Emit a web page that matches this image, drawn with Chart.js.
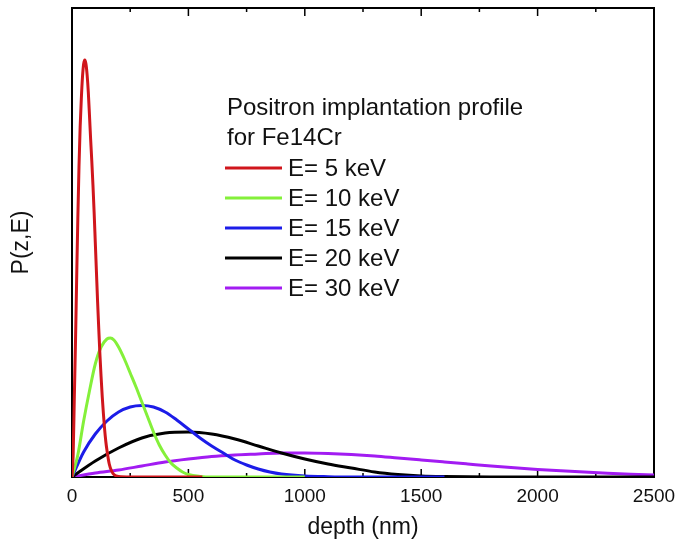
<!DOCTYPE html>
<html>
<head>
<meta charset="utf-8">
<script src="https://cdn.jsdelivr.net/npm/chart.js@4.4.1/dist/chart.umd.min.js"></script>
<style>
  html, body { margin: 0; padding: 0; background: #fff; }
</style>
</head>
<body>
<canvas id="profileChart" width="691" height="547"></canvas>
<script>
// depth in nm, P(z,E) in arbitrary units
const legendTitle = ["Positron implantation profile", "for Fe14Cr"];
const seriesLabels = ["E= 5 keV", "E= 10 keV", "E= 15 keV", "E= 20 keV", "E= 30 keV"];
const seriesColors = ["#d0161c", "#84f03a", "#1c1ce8", "#000000", "#a21cf2"];
const xTicks = [0, 500, 1000, 1500, 2000, 2500];

const depth5 = [0, 5, 10, 15, 20, 25, 30, 35, 40, 45, 50, 55, 60, 65, 70, 75, 80, 85, 90, 95, 100, 105, 110, 115, 120, 125, 130, 135, 140, 145, 150, 160, 170, 180, 200, 250, 560];
const p5 = [0, 22, 80, 135, 198, 258, 310, 350, 378, 400, 413, 417, 413, 402, 385, 362, 338, 316, 292, 265, 235, 205, 175, 148, 122, 100, 80, 63, 48, 36, 27, 13, 6, 2.5, 0.5, 0, 0];

const depth10 = [0, 25, 50, 75, 100, 125, 150, 165, 180, 200, 225, 250, 275, 300, 325, 350, 375, 400, 425, 450, 475, 500, 550, 600, 1000];
const p10 = [0, 22, 56, 86, 113, 130, 138, 139, 137, 130, 118, 104, 90, 75, 60, 45, 32, 22, 14, 9, 5, 2.5, 0.6, 0, 0];

const depth15 = [0, 50, 100, 150, 200, 250, 300, 350, 400, 450, 500, 550, 600, 650, 700, 750, 800, 850, 900, 1000, 1100, 1200, 1600];
const p15 = [0, 25, 43, 56, 65, 70, 71.5, 70, 65, 57, 48, 39, 31, 24, 17, 12, 8, 5, 3, 1, 0.3, 0, 0];

const depth20 = [0, 100, 200, 300, 400, 500, 600, 700, 800, 900, 1000, 1100, 1200, 1300, 1400, 1500, 1600, 1800, 2500];
const p20 = [0, 16, 29, 39, 44, 45, 43, 38, 31, 24, 18, 13, 9, 5, 2.5, 1, 0.4, 0, 0];

const depth30 = [0, 100, 200, 300, 400, 500, 600, 700, 800, 900, 1000, 1100, 1200, 1300, 1400, 1500, 1600, 1700, 1800, 1900, 2000, 2100, 2200, 2300, 2400, 2500];
const p30 = [0, 4, 7, 11, 15, 18, 20.5, 22, 23, 24, 24, 23.5, 22.5, 21, 19, 17, 15, 13, 11, 9.2, 7.6, 6.2, 4.9, 3.8, 2.8, 2];

const depths = [depth5, depth10, depth15, depth20, depth30];
const values = [p5, p10, p15, p20, p30];

const fontFamily = "'Liberation Sans', Arial, sans-serif";

// box around the plot with inward ticks on top and bottom
const framePlugin = {
  id: "frame",
  beforeDatasetsDraw(chart) {
    const { ctx, chartArea: a, scales: { x } } = chart;
    ctx.save();
    ctx.strokeStyle = "#000";
    ctx.lineWidth = 2;
    ctx.strokeRect(a.left, a.top, a.right - a.left, a.bottom - a.top);
    ctx.lineWidth = 1.5;
    for (let i = 0; i < xTicks.length; i++) {
      const marks = [[xTicks[i], 8]];
      if (i < xTicks.length - 1) marks.push([(xTicks[i] + xTicks[i + 1]) / 2, 4]);
      marks.forEach(([v, len]) => {
        const px = x.getPixelForValue(v);
        ctx.beginPath();
        ctx.moveTo(px, a.bottom);
        ctx.lineTo(px, a.bottom - len);
        ctx.moveTo(px, a.top);
        ctx.lineTo(px, a.top + len);
        ctx.stroke();
      });
    }
    ctx.restore();
  }
};

// legend inside the plot, with a two line heading
const legendPlugin = {
  id: "insideLegend",
  afterDraw(chart) {
    const ctx = chart.ctx;
    ctx.save();
    ctx.font = "24px " + fontFamily;
    ctx.fillStyle = "#111";
    ctx.textBaseline = "middle";
    ctx.textAlign = "left";
    legendTitle.forEach((t, i) => ctx.fillText(t, 227, 108 + i * 30));
    chart.data.datasets.forEach((ds, i) => {
      const y = 168 + i * 30;
      ctx.strokeStyle = ds.borderColor;
      ctx.lineWidth = 3;
      ctx.beginPath();
      ctx.moveTo(225, y);
      ctx.lineTo(282, y);
      ctx.stroke();
      ctx.fillText(ds.label, 288, y + 1);
    });
    ctx.restore();
  }
};

const ctx = document.getElementById("profileChart").getContext("2d");
new Chart(ctx, {
  type: "line",
  data: {
    datasets: seriesLabels.map((label, i) => ({
      label: label,
      data: depths[i].map((d, j) => ({ x: d, y: values[i][j] })),
      borderColor: seriesColors[i],
      borderWidth: 3,
      pointRadius: 0,
      fill: false,
      cubicInterpolationMode: "monotone"
    }))
  },
  options: {
    responsive: false,
    animation: false,
    layout: { padding: { top: 8, right: 37, left: 0, bottom: 0 } },
    plugins: {
      legend: { display: false },
      tooltip: { enabled: false }
    },
    scales: {
      x: {
        type: "linear",
        min: 0,
        max: 2500,
        afterBuildTicks: (s) => { s.ticks = xTicks.map(v => ({ value: v })); },
        afterFit: (s) => { s.height = 70; },
        ticks: {
          color: "#111",
          padding: 8,
          maxRotation: 0,
          font: { size: 19, family: fontFamily },
          callback: (v) => String(v)
        },
        grid: { display: false, drawTicks: false },
        border: { display: false },
        title: {
          display: true,
          text: "depth (nm)",
          color: "#111",
          font: { size: 23, family: fontFamily },
          padding: { top: 0, bottom: 6 }
        }
      },
      y: {
        min: 0,
        max: 469,
        afterFit: (s) => { s.width = 72; },
        ticks: { display: false },
        grid: { display: false, drawTicks: false },
        border: { display: false },
        title: {
          display: true,
          text: "P(z,E)",
          color: "#111",
          font: { size: 23, family: fontFamily },
          padding: { top: 8, bottom: 0 }
        }
      }
    }
  },
  plugins: [framePlugin, legendPlugin]
});
</script>
</body>
</html>
